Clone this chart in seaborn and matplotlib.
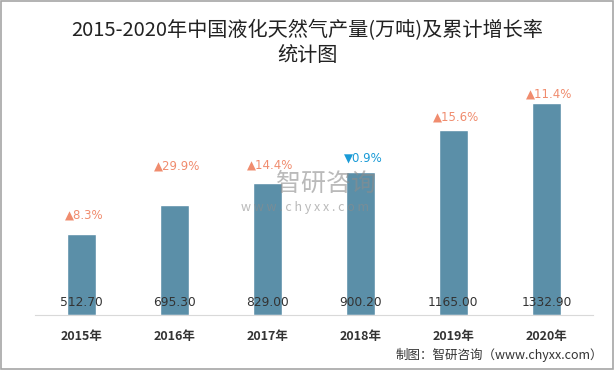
import matplotlib
matplotlib.use('Agg')
import matplotlib.pyplot as plt
import seaborn as sns
import pandas as pd
from matplotlib.patches import Rectangle

# data
years = ['2015年', '2016年', '2017年', '2018年', '2019年', '2020年']
output = [512.70, 695.30, 829.00, 900.20, 1165.00, 1332.90]
growth = [8.3, 29.9, 14.4, -0.9, 15.6, 11.4]

# how far above each bar the growth label sits (points)
label_pad = [13.5, 28, 13.5, 10, 9.5, 6.5]

df = pd.DataFrame({'year': years, 'output': output, 'growth': growth})

sns.set_style('white')
plt.rcParams['font.family'] = ['Noto Sans CJK SC', 'DejaVu Sans']

fig = plt.figure(figsize=(6.15, 3.7), dpi=100)
ax = fig.add_axes([0.057, 0.1486, 0.907, 0.635])

sns.barplot(data=df, x='year', y='output', color='#5B8FA8', width=0.31,
            saturation=1, ax=ax)
ax.set_xlim(-0.5, 5.5)
ax.set_ylim(0, 1480)

for i, row in df.iterrows():
    ax.text(i, 40, f"{row['output']:.2f}", ha='center', va='bottom',
            fontsize=8.8, color='#333333', family=['DejaVu Sans'])
    if row['growth'] >= 0:
        lbl, col = f"▲{row['growth']:.1f}%", '#F08C6E'
    else:
        lbl, col = f"▼{abs(row['growth']):.1f}%", '#1A9BD7'
    ax.annotate(lbl, (i, row['output']), xytext=(2, label_pad[i]),
                textcoords='offset points', ha='center', va='center',
                fontsize=8.5, color=col, family=['DejaVu Sans'])

for s in ['top', 'right', 'left']:
    ax.spines[s].set_visible(False)
ax.spines['bottom'].set_color('#d9d9d9')
ax.set_yticks([])
ax.set_xlabel('')
ax.set_ylabel('')
ax.tick_params(axis='x', length=0, pad=11)
for t in ax.get_xticklabels():
    t.set_fontsize(9)
    t.set_fontweight('bold')
    t.set_color('#333333')

fig.text(0.5, 0.884, '2015-2020年中国液化天然气产量(万吨)及累计增长率\n统计图',
         ha='center', va='center', fontsize=14.5, color='#222222',
         linespacing=1.25)

# watermark
fig.text(0.53, 0.502, '智研咨询', ha='center', va='center', fontsize=18,
         color='#8c8c8c', alpha=0.6, zorder=0)
fig.text(0.496, 0.44, 'w w w . c h y x x . c o m', ha='center', va='center',
         fontsize=9, color='#8c8c8c', alpha=0.6, zorder=0)

fig.text(0.98, 0.04, '制图：智研咨询（www.chyxx.com）', ha='right', va='center',
         fontsize=9, color='#333333')

fig.patches.append(Rectangle((0.002, 0.003), 0.995, 0.993, transform=fig.transFigure,
                             fill=False, edgecolor='#a6a6a6', linewidth=1.2))

fig.savefig('out.png', dpi=100)
